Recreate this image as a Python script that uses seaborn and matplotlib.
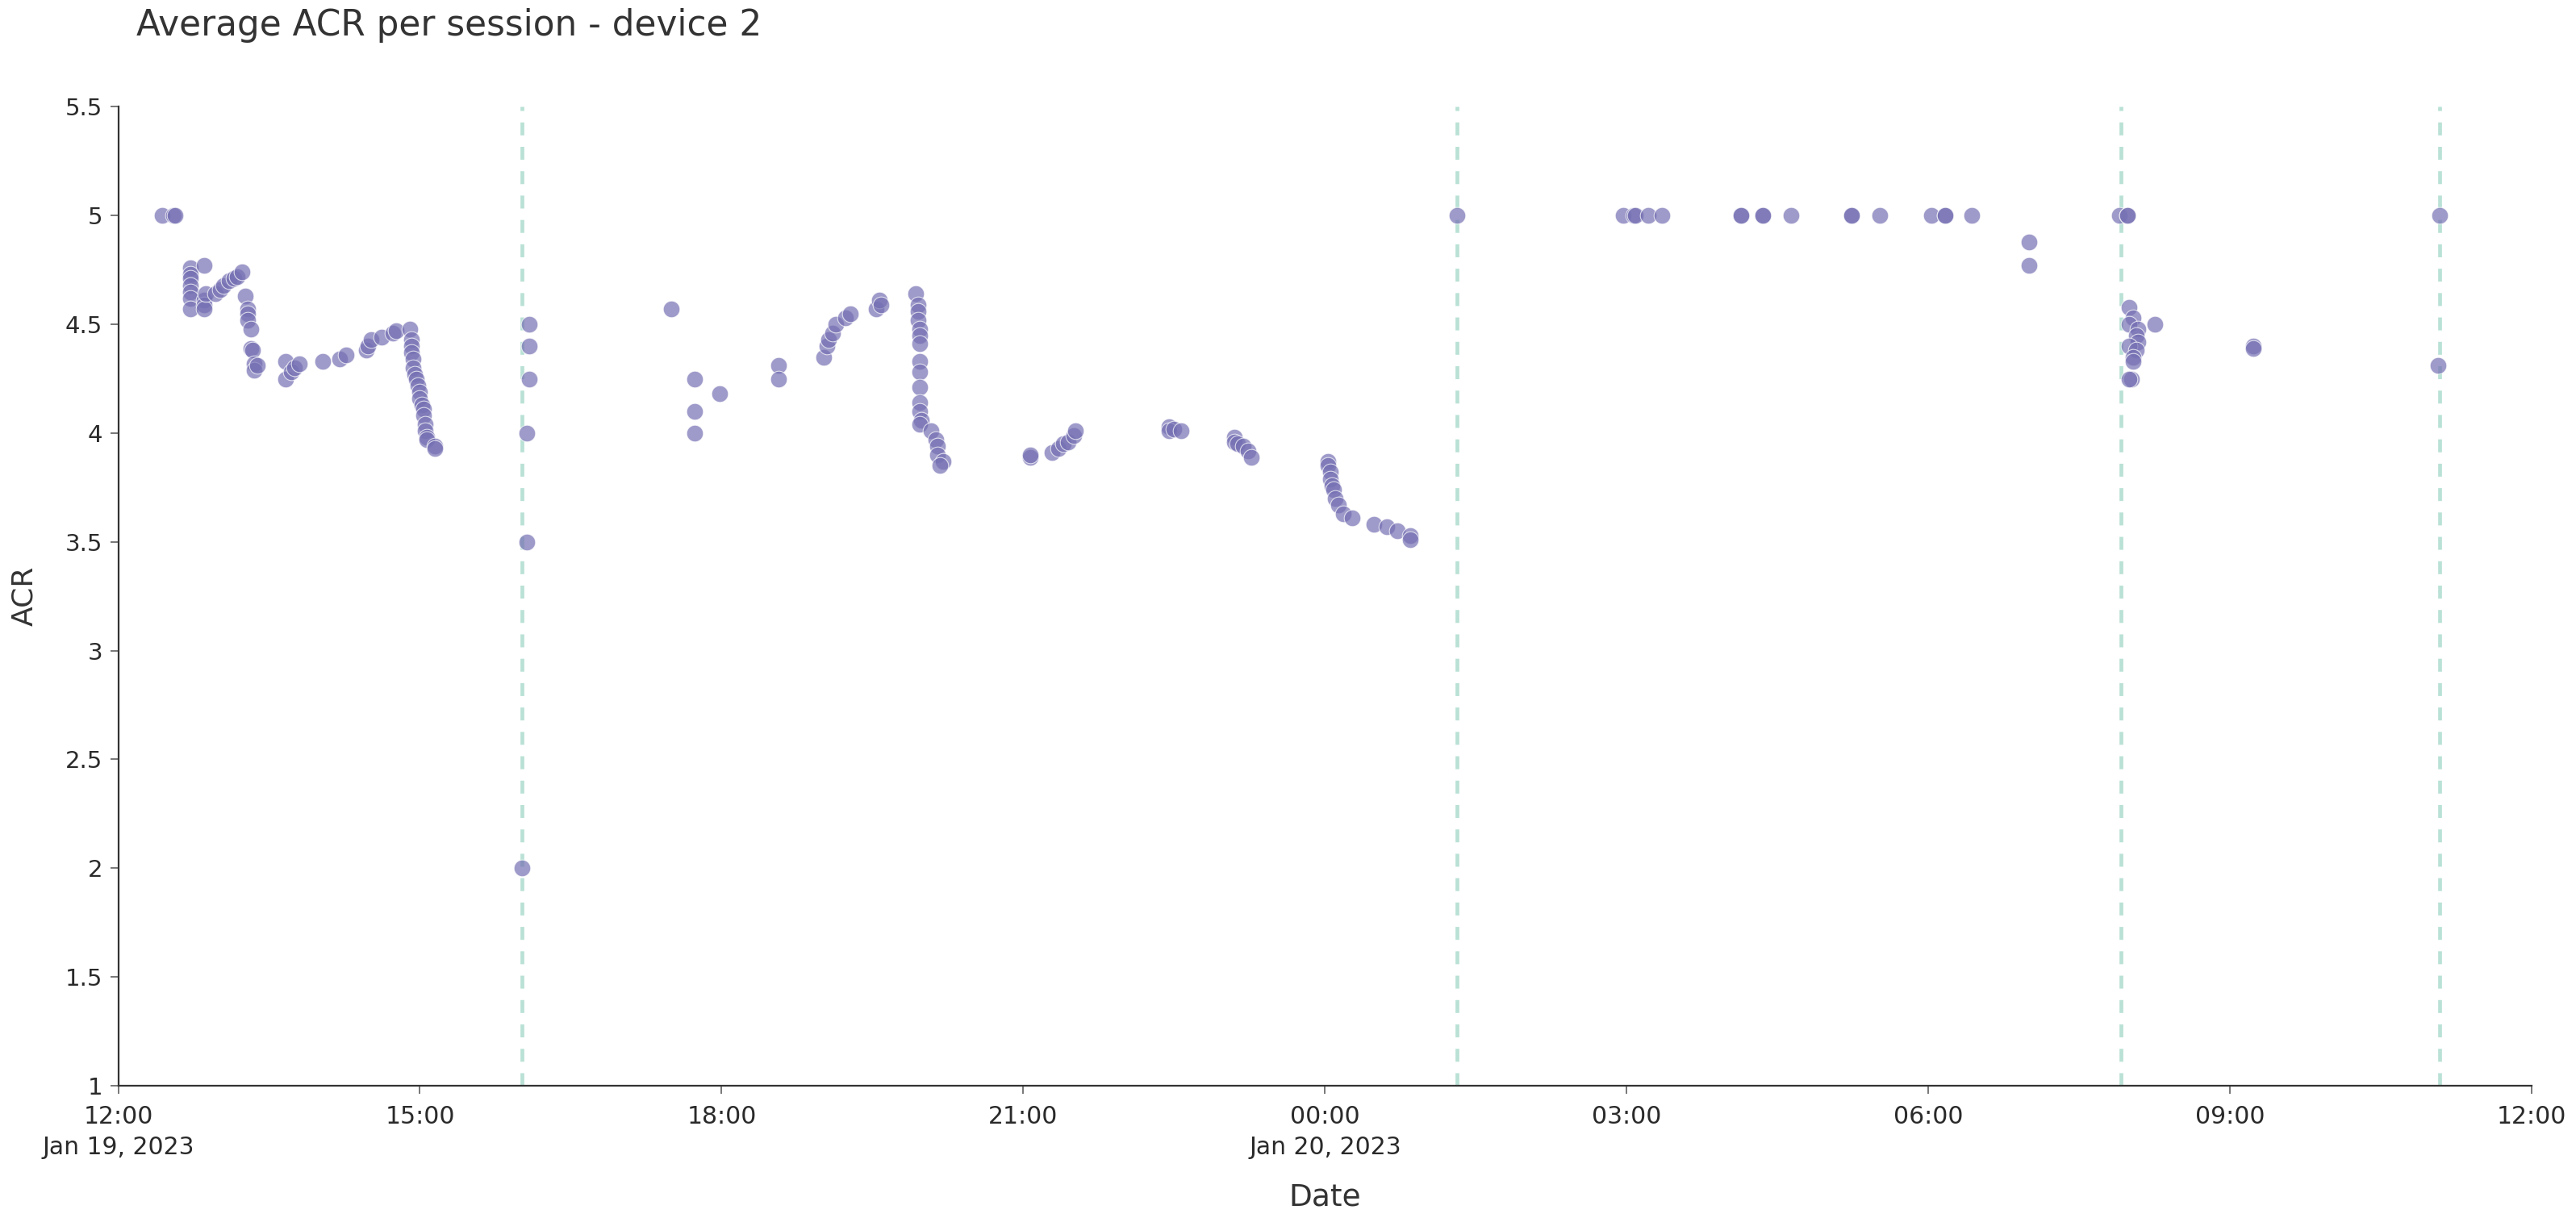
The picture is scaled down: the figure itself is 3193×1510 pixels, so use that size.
import pandas as pd
import matplotlib.pyplot as plt
import seaborn as sns

sns.set_style("ticks")
plt.rcParams['font.family'] = ['DejaVu Sans']

# session start times (HH:MM) and average ACR per session
times_jan19 = ["12:26", "12:33", "12:34",
               "12:43", "12:43", "12:43", "12:43", "12:43", "12:43", "12:43",
               "12:51", "12:51", "12:51", "12:51", "12:52",
               "12:58", "13:01", "13:03", "13:06", "13:09", "13:11", "13:14",
               "13:16", "13:17", "13:17", "13:17", "13:19", "13:19", "13:20", "13:21", "13:21", "13:23",
               "13:40", "13:40", "13:43", "13:45", "13:48",
               "14:02", "14:12", "14:16", "14:28", "14:29", "14:31", "14:37", "14:44", "14:46",
               "14:54", "14:55", "14:55", "14:55", "14:56", "14:56", "14:57", "14:58", "14:59", "15:00",
               "15:00", "15:01", "15:02", "15:02", "15:03", "15:03", "15:04", "15:04", "15:09", "15:09",
               "16:01", "16:04", "16:04", "16:05", "16:05", "16:05",
               "17:30", "17:44", "17:44", "17:44", "17:59", "18:34", "18:34",
               "19:01", "19:03", "19:04", "19:06", "19:08", "19:14", "19:17", "19:32", "19:34", "19:35",
               "19:56", "19:57", "19:57", "19:57", "19:58", "19:58", "19:58", "19:58", "19:58", "19:58",
               "19:58", "19:58", "19:59", "19:58", "20:05", "20:08", "20:09", "20:09", "20:12", "20:10",
               "21:04", "21:04", "21:17", "21:21", "21:24", "21:27", "21:30", "21:31",
               "22:27", "22:27", "22:30", "22:34",
               "23:06", "23:06", "23:08", "23:11", "23:14", "23:16"]
acr_jan19 = [5.00, 5.00, 5.00,
             4.76, 4.73, 4.71, 4.68, 4.65, 4.62, 4.57,
             4.77, 4.61, 4.59, 4.57, 4.64,
             4.64, 4.66, 4.68, 4.70, 4.71, 4.72, 4.74,
             4.63, 4.57, 4.55, 4.52, 4.48, 4.39, 4.38, 4.32, 4.29, 4.31,
             4.33, 4.25, 4.28, 4.30, 4.32,
             4.33, 4.34, 4.36, 4.38, 4.40, 4.43, 4.44, 4.46, 4.47,
             4.48, 4.43, 4.40, 4.37, 4.34, 4.30, 4.27, 4.25, 4.22, 4.19,
             4.16, 4.13, 4.11, 4.08, 4.04, 4.01, 3.98, 3.97, 3.94, 3.93,
             2.00, 3.50, 4.00, 4.25, 4.40, 4.50,
             4.57, 4.25, 4.10, 4.00, 4.18, 4.31, 4.25,
             4.35, 4.40, 4.43, 4.46, 4.50, 4.53, 4.55, 4.57, 4.61, 4.59,
             4.64, 4.59, 4.56, 4.52, 4.48, 4.45, 4.41, 4.33, 4.28, 4.21,
             4.14, 4.10, 4.06, 4.04, 4.01, 3.97, 3.94, 3.90, 3.87, 3.85,
             3.89, 3.90, 3.91, 3.93, 3.95, 3.96, 3.99, 4.01,
             4.03, 4.01, 4.02, 4.01,
             3.98, 3.96, 3.95, 3.94, 3.92, 3.89]

times_jan20 = ["00:02", "00:02", "00:03", "00:03", "00:04", "00:05", "00:06", "00:08",
               "00:11", "00:16", "00:29", "00:37", "00:43", "00:51", "00:51",
               "01:19", "02:58", "03:04", "03:05", "03:13", "03:21", "04:08", "04:08", "04:21",
               "04:21", "04:38", "05:14", "05:14", "05:31", "06:02", "06:10", "06:10", "06:26",
               "07:00", "07:00", "07:54", "07:59", "07:59",
               "08:00", "08:02", "08:00", "08:15", "08:05", "08:04", "08:05", "08:00", "08:04",
               "08:02", "08:02", "08:01", "08:00",
               "09:14", "09:14", "11:04", "11:05"]
acr_jan20 = [3.87, 3.85, 3.82, 3.79, 3.76, 3.74, 3.70, 3.67,
             3.63, 3.61, 3.58, 3.57, 3.55, 3.53, 3.51,
             5.00, 5.00, 5.00, 5.00, 5.00, 5.00, 5.00, 5.00, 5.00,
             5.00, 5.00, 5.00, 5.00, 5.00, 5.00, 5.00, 5.00, 5.00,
             4.88, 4.77, 5.00, 5.00, 5.00,
             4.58, 4.53, 4.50, 4.50, 4.48, 4.45, 4.42, 4.40, 4.38,
             4.35, 4.33, 4.25, 4.25,
             4.40, 4.39, 4.31, 5.00]

# events marked with dashed lines
events = ["2023-01-19 16:01", "2023-01-20 01:19", "2023-01-20 07:55", "2023-01-20 11:05"]

tick_times = ["2023-01-19 12:00", "2023-01-19 15:00", "2023-01-19 18:00", "2023-01-19 21:00",
              "2023-01-20 00:00", "2023-01-20 03:00", "2023-01-20 06:00", "2023-01-20 09:00",
              "2023-01-20 12:00"]
tick_labels = ["12:00\nJan 19, 2023", "15:00", "18:00", "21:00", "00:00\nJan 20, 2023",
               "03:00", "06:00", "09:00", "12:00"]
y_ticks = [1, 1.5, 2, 2.5, 3, 3.5, 4, 4.5, 5, 5.5]

df = pd.DataFrame({
    'date': pd.to_datetime(["2023-01-19 " + t for t in times_jan19] +
                           ["2023-01-20 " + t for t in times_jan20]),
    'acr': acr_jan19 + acr_jan20,
})

fig = plt.figure(figsize=(31.93, 15.10), dpi=100)
ax = fig.add_axes([0.0459, 0.1086, 0.9369, 0.8037])

for ev in events:
    ax.axvline(pd.Timestamp(ev), color='#1b9e77', alpha=0.3, lw=3.4,
               linestyle=(0, (3.4, 3.0)), zorder=1)

sns.scatterplot(data=df, x='date', y='acr', color='#7570b3', alpha=0.7, s=220,
                edgecolor='white', linewidth=0.8, ax=ax, zorder=2)

ax.set_xlim(pd.Timestamp(tick_times[0]), pd.Timestamp(tick_times[-1]))
ax.set_ylim(1, 5.5)
ax.set_xticks(pd.to_datetime(tick_times), tick_labels)
ax.set_yticks(y_ticks, [f'{v:g}' for v in y_ticks])

for lab in ax.get_xticklabels():
    lab.set_linespacing(1.4)
ax.tick_params(axis='x', length=7, width=1.4, color='#777777', pad=10,
               labelsize=21.5, labelcolor='#2a2a2a')
ax.tick_params(axis='y', length=7, width=1.4, color='#777777', pad=7,
               labelsize=21, labelcolor='#2a2a2a')

sns.despine(ax=ax)
for side in ['left', 'bottom']:
    ax.spines[side].set_color('#333333')
    ax.spines[side].set_linewidth(1.6)

ax.set_xlabel('Date', fontsize=27, color='#333333')
ax.set_ylabel('ACR', fontsize=26, color='#333333')
ax.xaxis.set_label_coords(0.5, -0.114)
ax.xaxis.label.set_va('center')
ax.yaxis.set_label_coords(-0.039, 0.5)
ax.yaxis.label.set_va('center')

fig.text(0.053, 0.979, 'Average ACR per session - device 2', fontsize=31.5,
         color='#333333', ha='left', va='center')

plt.savefig('out.png', dpi=100)
